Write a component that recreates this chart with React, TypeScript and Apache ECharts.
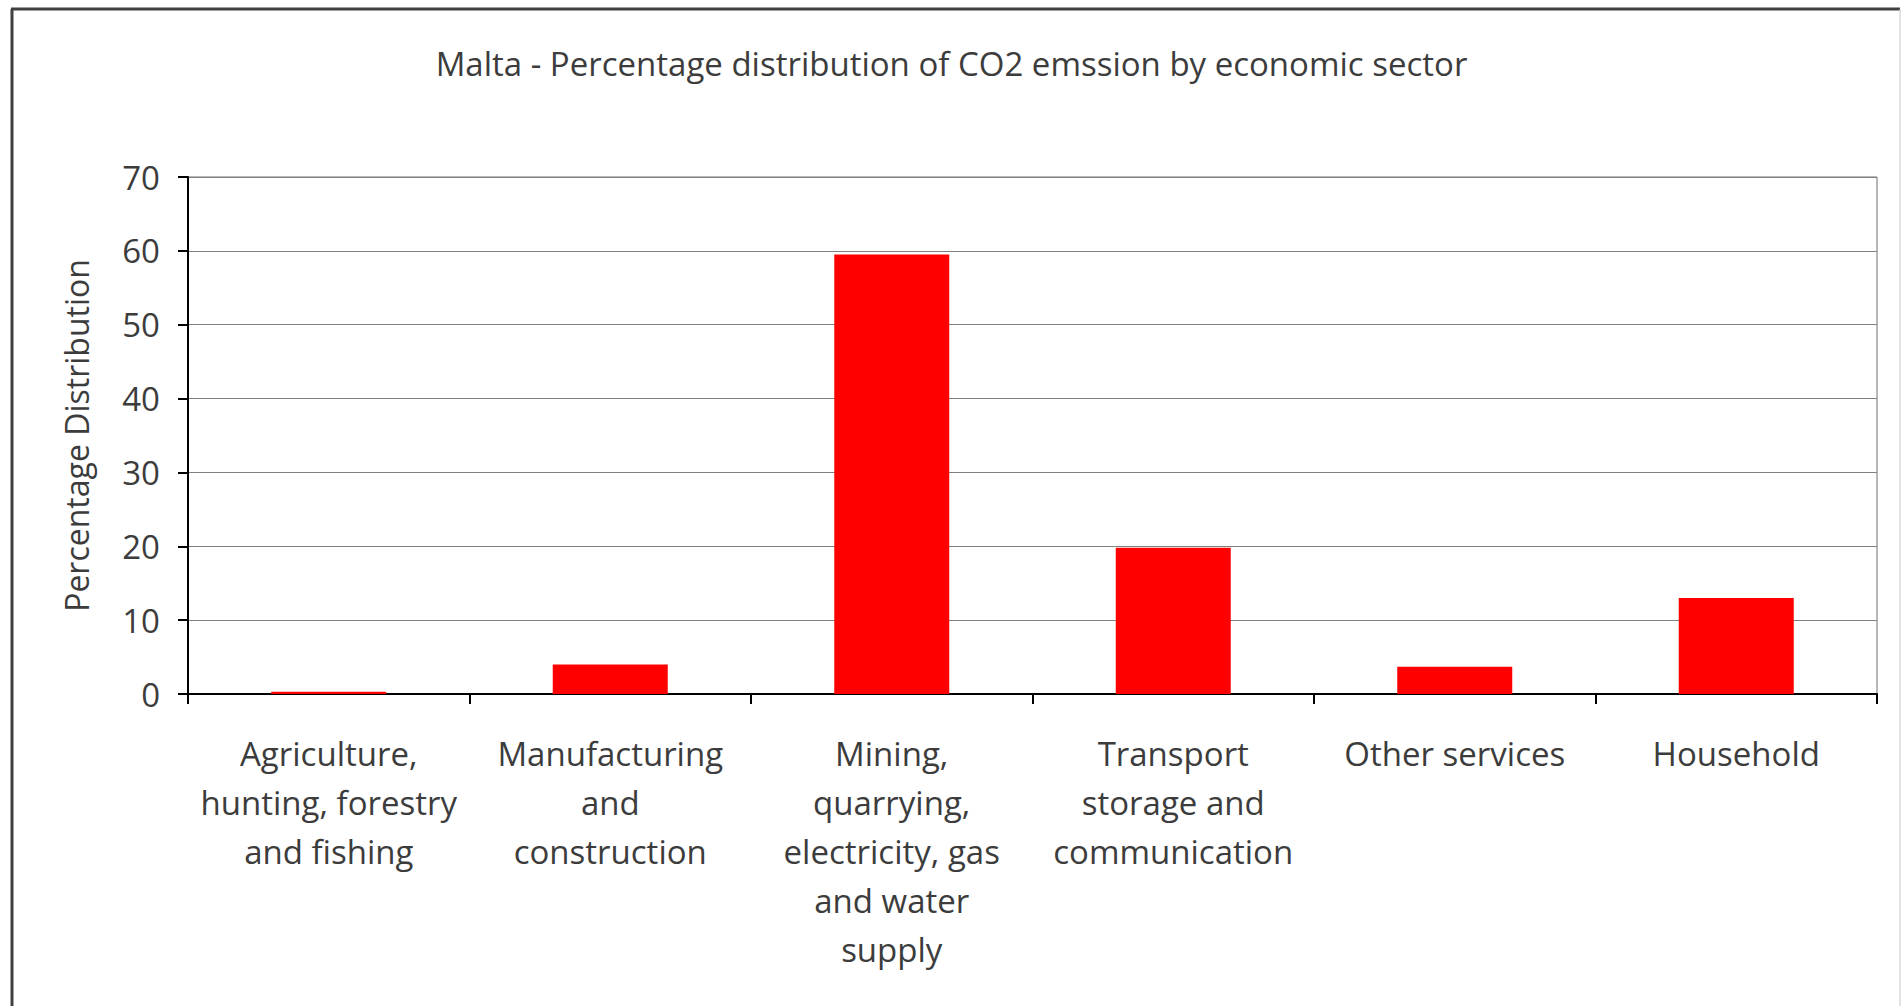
import React, { useEffect, useRef } from "react";
import * as echarts from "echarts";

const TITLE = "Malta - Percentage distribution of CO2 emssion by economic sector";
const Y_AXIS_NAME = "Percentage Distribution";
const categories = [
  "Agriculture,\nhunting, forestry\nand fishing",
  "Manufacturing\nand\nconstruction",
  "Mining,\nquarrying,\nelectricity, gas\nand water\nsupply",
  "Transport\nstorage and\ncommunication",
  "Other services",
  "Household",
];
const values = [0.3, 4.0, 59.5, 19.8, 3.7, 13.0];
const yTicks = { min: 0, max: 70, interval: 10 };

const FONT = "Open Sans";
const TEXT_COLOR = "#3c3c3c";

export default function App() {
  const ref = useRef<HTMLDivElement>(null);
  useEffect(() => {
    if (!ref.current) return;
    const chart = echarts.init(ref.current, undefined, { renderer: "svg" });
    chart.setOption({
      animation: false,
      backgroundColor: "#ffffff",
      title: {
        text: TITLE,
        left: "center",
        top: 42,
        textStyle: { fontFamily: FONT, fontSize: 33, fontWeight: "normal", color: TEXT_COLOR },
      },
      graphic: [
        { type: "line", shape: { x1: 12, y1: 9, x2: 12, y2: 1006 }, style: { stroke: "#404040", lineWidth: 3 } },
        { type: "line", shape: { x1: 11, y1: 9, x2: 1900, y2: 9 }, style: { stroke: "#404040", lineWidth: 3 } },
        { type: "line", shape: { x1: 1900, y1: 9, x2: 1900, y2: 1006 }, style: { stroke: "#c8c8c8", lineWidth: 1 } },
      ],
      grid: {
        left: 188,
        right: 26,
        top: 177,
        bottom: 312,
        show: true,
        borderColor: "#707070",
        borderWidth: 1,
      },
      xAxis: {
        type: "category",
        data: categories,
        axisLine: { show: true, lineStyle: { color: "#000000", width: 2 } },
        axisTick: { show: true, length: 10, alignWithLabel: false, lineStyle: { color: "#000000", width: 2 } },
        axisLabel: {
          interval: 0,
          margin: 35,
          fontFamily: FONT,
          fontSize: 33,
          lineHeight: 49,
          color: TEXT_COLOR,
        },
      },
      yAxis: {
        type: "value",
        min: yTicks.min,
        max: yTicks.max,
        interval: yTicks.interval,
        name: Y_AXIS_NAME,
        nameLocation: "middle",
        nameRotate: 90,
        nameGap: 96,
        nameTextStyle: { fontFamily: FONT, fontSize: 32, color: TEXT_COLOR },
        axisLine: { show: true, lineStyle: { color: "#000000", width: 2 } },
        axisTick: { show: true, length: 10, lineStyle: { color: "#000000", width: 2 } },
        axisLabel: { margin: 28, fontFamily: FONT, fontSize: 33, color: TEXT_COLOR },
        splitLine: { show: true, lineStyle: { color: "#808080", width: 1 } },
      },
      series: [
        {
          type: "bar",
          data: values,
          barWidth: 115,
          itemStyle: { color: "#ff0000" },
        },
      ],
    });
    return () => chart.dispose();
  }, []);
  return (
    <div
      ref={ref}
      style={{ position: "fixed", left: 0, top: 0, width: 1903, height: 1006 }}
    />
  );
}
